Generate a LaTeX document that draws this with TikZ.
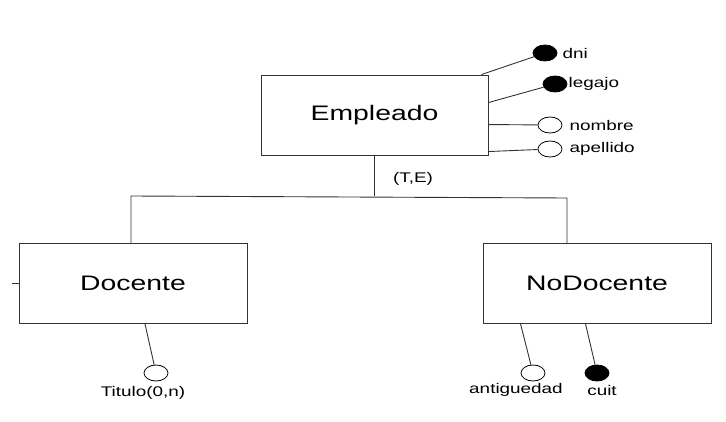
\documentclass[tikz,border=0pt]{standalone}
\usepackage{fontspec}
\setmainfont[FakeStretch=1.35]{Liberation Sans}
\usetikzlibrary{shapes.geometric,calc}
\tikzset{
    entity-box/.style = {draw=black!80, fill=white, line width=0.9pt, rectangle, minimum width=228pt, minimum height=80pt, font=\fontsize{21}{25}\selectfont},
    attr-key/.style = {draw=black, fill=black, ellipse, line width=0.8pt, minimum width=24pt, minimum height=16pt, inner sep=0pt},
    attr-plain/.style = {draw=black, fill=white, ellipse, line width=0.8pt, minimum width=24pt, minimum height=16pt, inner sep=0pt},
    attr-label/.style = {font=\fontsize{14}{16}\selectfont, inner sep=0pt},
    link/.style = {draw=black!80, line width=0.9pt},
}

\begin{document}
\begin{tikzpicture}[x=1pt, y=-1pt]
\useasboundingbox (0,0) rectangle (726,422);
% entities
\node [entity-box, minimum width=227pt] (emp) at (374.5,115) {Empleado};
\node [entity-box] (doc) at (133,283.5) {Docente};
\node [entity-box] (nodoc) at (597,283.5) {NoDocente};
% hierarchy
\coordinate (hl) at (131,196);
\coordinate (hr) at (567,198);
\draw [link] (emp.south) -- (emp.south |- hl);
\draw [link] (doc.north -| hl) -- (hl) -- (hr) -- (nodoc.north -| hr);
\node [attr-label] (cover) at (413,179) {(T,E)};
\draw [link] (doc.west) -- ++(-7,0);
% attributes of Empleado
\node [attr-key] (dni) at (545,53) {};
\node [attr-key] (legajo) at (555,84) {};
\node [attr-plain] (nombre) at (550,125) {};
\node [attr-plain] (apellido) at (550,149) {};
\draw [link] ($(emp.north east)+(-7,0)$) -- (dni);
\draw [link] ($(emp.north east)+(0,28)$) -- (legajo);
\draw [link] ($(emp.north east)+(0,50)$) -- (nombre);
\draw [link] ($(emp.north east)+(0,77)$) -- (apellido);
\node [attr-label, right=5pt] (dni-lbl) at (dni.east) {dni};
\node [attr-label, right=1pt] (legajo-lbl) at (legajo.east) {legajo};
\node [attr-label, right=7pt] (nombre-lbl) at (nombre.east) {nombre};
\node [attr-label, right=7pt] (apellido-lbl) at (apellido.east) {apellido};
% attributes of Docente
\node [attr-plain] (titulo) at (156,373) {};
\draw [link] ($(doc.south)+(12,0)$) -- (titulo);
\node [attr-label] (titulo-lbl) at (143,393) {Titulo(0,n)};
% attributes of NoDocente
\node [attr-plain] (antig) at (533,373) {};
\node [attr-key] (cuit) at (597,373) {};
\draw [link] ($(nodoc.south west)+(38,0)$) -- (antig);
\draw [link] ($(nodoc.south west)+(103,0)$) -- (cuit);
\node [attr-label] (antig-lbl) at (516,390) {antiguedad};
\node [attr-label] (cuit-lbl) at (602,390) {cuit};
\end{tikzpicture}
\end{document}
